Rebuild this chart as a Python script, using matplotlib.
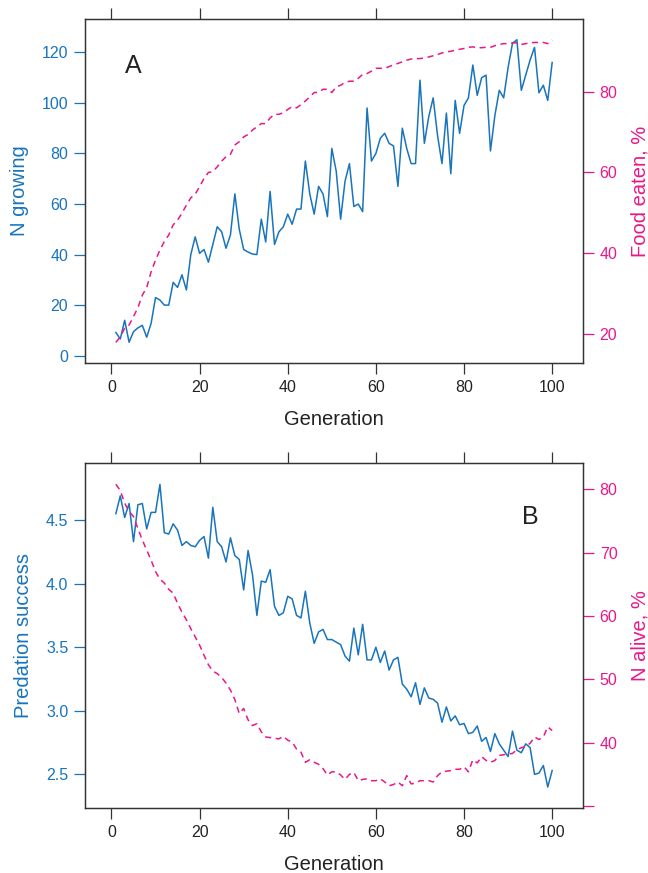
import numpy as np
import matplotlib
matplotlib.use("Agg")
from matplotlib import pyplot as plt

plt.rcParams['font.family'] = ['Liberation Sans', 'DejaVu Sans']

generation = np.arange(1, 101)

# panel A
n_growing = [9.2, 6.6, 14, 5.3, 9.5, 11, 12, 7.3, 12.8, 23,
             22, 20, 20, 29, 27, 32, 26, 40, 47, 40.5,
             42, 37, 44, 51, 49, 42.5, 47.8, 64, 50, 42,
             41, 40.2, 40, 54, 45, 65, 44, 49, 51, 56,
             52, 58, 58, 77, 64, 56, 67, 64, 55, 82,
             73, 54, 69, 76, 59, 60, 57, 98, 77, 80,
             86, 88, 84, 83, 67, 90, 82, 76, 76, 109,
             84, 94.6, 102, 87, 76, 96, 72, 101, 88, 99,
             102, 115, 103, 110, 111, 81, 95, 105, 102, 114,
             123.6, 125, 105, 111, 117, 122, 104, 107, 101, 116]
food_eaten = [17.9, 19.3, 21.4, 22.2, 24.3, 26.5, 29.6, 31.5, 35.4, 38.3,
              40.8, 42.9, 44.5, 47, 48.2, 49.9, 51.9, 53.7, 54.6, 56.5,
              58.5, 60, 60.2, 61.4, 62.8, 63.9, 64.5, 66.8, 67.6, 68.8,
              69.4, 70.5, 71.3, 72.1, 72.1, 73.5, 74.4, 74.4, 74.8, 75.6,
              76.3, 76, 76.8, 77.7, 78.7, 79.8, 79.8, 80.6, 80.6, 79.8,
              81.2, 81.6, 82.3, 82.6, 82.6, 83.3, 84.3, 84.5, 85.1, 85.8,
              85.8, 85.8, 86.2, 86.7, 87, 87.4, 87.8, 88.1, 88.2, 88.2,
              88.4, 88.6, 88.9, 89.2, 89.6, 89.9, 90, 90.3, 90.5, 90.7,
              91, 91.1, 90.9, 90.9, 91, 91, 91.4, 91.7, 91.9, 91.9,
              92.1, 92.1, 91.7, 91.9, 92.1, 92.2, 92.2, 92.2, 91.9, 92.8]

# panel B
predation = [4.55, 4.69, 4.52, 4.63, 4.33, 4.62, 4.63, 4.43, 4.56, 4.56,
             4.78, 4.40, 4.39, 4.47, 4.42, 4.30, 4.33, 4.30, 4.29, 4.34,
             4.37, 4.20, 4.60, 4.33, 4.29, 4.17, 4.36, 4.22, 4.19, 3.95,
             4.26, 4.07, 3.75, 4.02, 4.01, 4.11, 3.82, 3.75, 3.77, 3.90,
             3.88, 3.75, 3.73, 3.94, 3.69, 3.53, 3.62, 3.64, 3.56, 3.56,
             3.54, 3.52, 3.43, 3.39, 3.65, 3.44, 3.68, 3.40, 3.40, 3.50,
             3.38, 3.47, 3.32, 3.40, 3.42, 3.21, 3.17, 3.11, 3.22, 3.05,
             3.18, 3.10, 3.09, 3.06, 2.91, 3.03, 2.92, 2.96, 2.89, 2.90,
             2.82, 2.83, 2.88, 2.76, 2.79, 2.68, 2.82, 2.74, 2.69, 2.64,
             2.84, 2.69, 2.67, 2.74, 2.71, 2.50, 2.51, 2.57, 2.40, 2.53]
n_alive = [80.8, 79.8, 77.8, 76.5, 75.7, 73.8, 72.0, 70.4, 68.8, 67.0,
           65.8, 65.2, 64.2, 63.6, 62.0, 60.6, 59.4, 58.0, 56.7, 55.4,
           53.8, 52.3, 51.3, 50.9, 50.3, 49.4, 48.3, 46.8, 44.6, 45.4,
           43.6, 42.7, 43.0, 41.7, 40.9, 40.8, 40.7, 40.6, 41.0, 40.4,
           40.1, 39.0, 38.5, 36.9, 37.3, 36.9, 36.6, 35.9, 34.9, 35.4,
           35.4, 34.9, 34.2, 35.0, 35.3, 34.0, 34.2, 34.3, 34.0, 34.0,
           34.3, 33.8, 33.2, 33.4, 33.8, 33.2, 34.8, 33.5, 33.6, 34.0,
           34.0, 34.0, 33.8, 34.8, 35.4, 35.5, 35.6, 35.8, 35.8, 36.2,
           35.4, 37.3, 36.8, 37.8, 37.2, 36.9, 37.2, 38.0, 38.1, 38.2,
           38.3, 38.9, 39.2, 39.4, 39.9, 40.9, 40.5, 40.9, 42.5, 41.9]

blue = "#1874bd"
pink = "#e8188a"
frame = "#333333"

fig = plt.figure(figsize=(6.48, 8.73), dpi=100)


def panel(rect, yl, yr, left_label, right_label, yl_lim, yr_lim,
          yl_ticks, yr_ticks, yr_ticklabels, letter, letter_pos):
    ax = fig.add_axes(rect)
    ax2 = ax.twinx()
    ax.plot(generation, yl, color=blue, lw=1.1)
    ax2.plot(generation, yr, color=pink, lw=1.1, dashes=(4, 3))
    ax.set_xlim(-6, 107)
    ax.set_ylim(*yl_lim)
    ax2.set_ylim(*yr_lim)
    ax.set_xticks([0, 20, 40, 60, 80, 100])
    ax.set_yticks(yl_ticks)
    ax2.set_yticks(yr_ticks)
    ax2.set_yticklabels(yr_ticklabels)
    ax.tick_params(axis='x', direction='out', length=8, width=0.9,
                   top=True, labeltop=False, colors=frame,
                   labelsize=11.5, labelcolor="#222222", pad=4)
    ax.tick_params(axis='y', direction='out', length=8, width=0.9,
                   colors=blue, labelsize=11.5, pad=4)
    ax2.tick_params(axis='y', direction='out', length=8, width=0.9,
                    colors=pink, labelsize=11.5, pad=4)
    for a in (ax, ax2):
        for s in a.spines.values():
            s.set_color(frame)
            s.set_linewidth(0.9)
    ax.set_xlabel("Generation", fontsize=14.5, color="#222222", labelpad=11)
    ax.set_ylabel(left_label, fontsize=14.5, color=blue, labelpad=9)
    ax2.set_ylabel(right_label, fontsize=14.5, color=pink, labelpad=9)
    ax.text(letter_pos[0], letter_pos[1], letter, transform=ax.transAxes,
            fontsize=18, color="#222222", ha='center', va='center')
    return ax, ax2


panel([0.1312, 0.5842, 0.7685, 0.394], n_growing, food_eaten,
      "N growing", "Food eaten, %", (-2.9, 133.2), (12.8, 98.0),
      [0, 20, 40, 60, 80, 100, 120], [20, 40, 60, 80],
      ["20", "40", "60", "80"], "A", (0.096, 0.863))

panel([0.1312, 0.0741, 0.7685, 0.3952], predation, n_alive,
      "Predation success", "N alive, %", (2.233, 4.946), (29.64, 84.1),
      [2.5, 3.0, 3.5, 4.0, 4.5], [30, 40, 50, 60, 70, 80],
      ["", "40", "50", "60", "70", "80"], "B", (0.894, 0.845))

fig.savefig("out.png", dpi=100)
